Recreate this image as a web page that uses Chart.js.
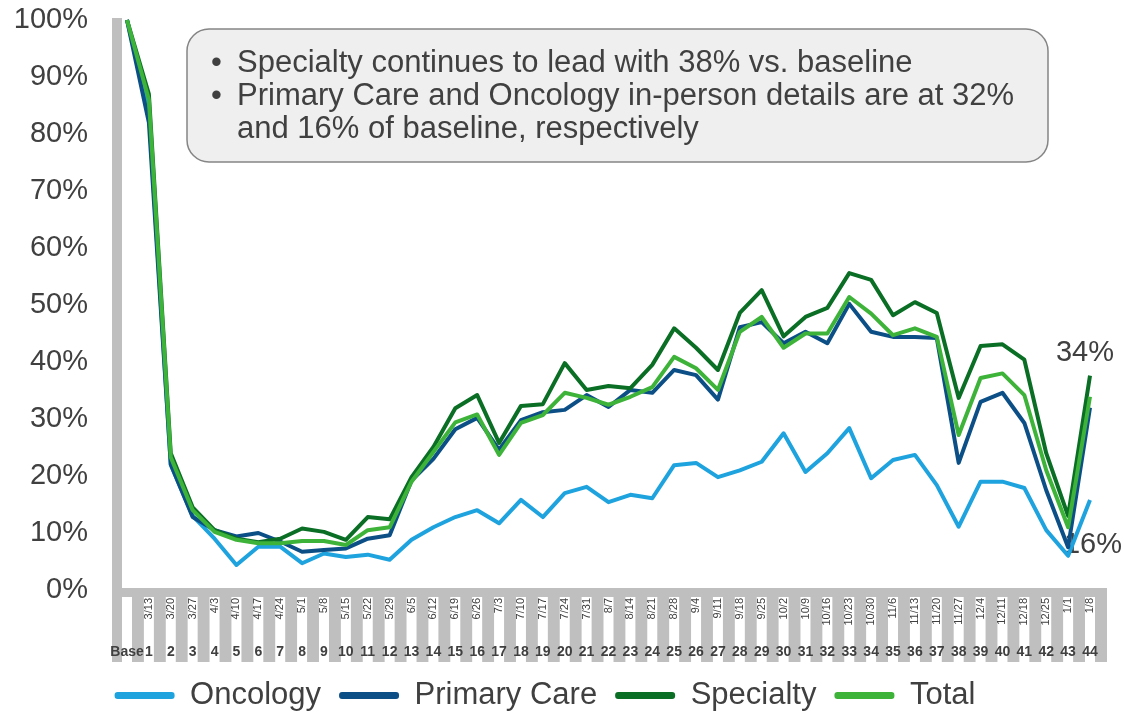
<!DOCTYPE html>
<html>
<head>
<meta charset="utf-8">
<script src="https://cdn.jsdelivr.net/npm/chart.js@4.4.1/dist/chart.umd.min.js"></script>
<style>
  html, body { margin: 0; padding: 0; background: #fff; }
  #wrap { width: 1124px; height: 712px; }
</style>
</head>
<body>
<div id="wrap"><canvas id="chart" width="1124" height="712"></canvas></div>
<script>
// week numbers and week-start dates
const weekNums = ['Base', '1', '2', '3', '4', '5', '6', '7', '8', '9', '10', '11', '12', '13', '14', '15',
  '16', '17', '18', '19', '20', '21', '22', '23', '24', '25', '26', '27', '28', '29', '30', '31', '32',
  '33', '34', '35', '36', '37', '38', '39', '40', '41', '42', '43', '44'];
const weekDates = ['', '3/13', '3/20', '3/27', '4/3', '4/10', '4/17', '4/24', '5/1', '5/8', '5/15', '5/22',
  '5/29', '6/5', '6/12', '6/19', '6/26', '7/3', '7/10', '7/17', '7/24', '7/31', '8/7', '8/14', '8/21',
  '8/28', '9/4', '9/11', '9/18', '9/25', '10/2', '10/9', '10/16', '10/23', '10/30', '11/6', '11/13',
  '11/20', '11/27', '12/4', '12/11', '12/18', '12/25', '1/1', '1/8'];

// % of baseline in-person details
const oncology = [100, 84, 22, 13, 9, 4.4, 7.6, 7.6, 4.7, 6.4, 5.8, 6.2, 5.3, 8.8, 11, 12.8, 14, 11.7,
  15.8, 12.8, 17, 18.1, 15.4, 16.7, 16.1, 21.9, 22.3, 19.8, 21, 22.5, 27.5, 20.7, 24, 28.4, 19.6, 22.8,
  23.7, 18.4, 11.1, 19, 19, 17.9, 10.5, 6, 15.8];
const primaryCare = [100, 82, 22, 12.8, 10.5, 9.4, 10, 8.5, 6.7, 7, 7.3, 9, 9.6, 19.2, 23, 28.2, 30.2,
  24.6, 29.8, 31.2, 31.6, 34.2, 32.1, 35.1, 34.6, 38.6, 37.7, 33.4, 46.1, 47, 43.3, 45.3, 43.3, 50.2,
  45.3, 44.4, 44.4, 44.2, 22.3, 33, 34.6, 29.3, 17.5, 7.5, 32];
const specialty = [100, 87, 24, 14.5, 10.5, 9, 8.4, 9, 10.8, 10.2, 8.8, 12.8, 12.4, 19.8, 25.1, 31.9,
  34.2, 25.8, 32.3, 32.6, 39.8, 35.1, 35.8, 35.4, 39.5, 45.9, 42.5, 38.6, 48.6, 52.6, 44.5, 47.9, 49.5,
  55.6, 54.4, 48.2, 50.5, 48.6, 33.7, 42.8, 43.1, 40.4, 24, 13, 37.6];
const total = [100, 86, 23.3, 14, 10.2, 8.8, 8.2, 8.2, 8.6, 8.6, 7.9, 10.5, 11, 19, 24.2, 29.4, 30.8,
  23.7, 29.3, 30.7, 34.6, 33.7, 32.5, 33.9, 35.6, 40.9, 38.9, 35.1, 45.3, 47.9, 42.5, 45, 45, 51.4, 48.5,
  44.7, 45.9, 44.4, 27.2, 37.2, 38, 34.2, 21, 11, 33.9];

const seriesNames = ['Oncology', 'Primary Care', 'Specialty', 'Total'];
const seriesColors = ['#1ea3df', '#0b4f86', '#0a6e25', '#3eb339'];

const notes = [
  'Specialty continues to lead with 38% vs. baseline',
  'Primary Care and Oncology in-person details are at 32%',
  'and 16% of baseline, respectively'
];

const textColor = '#404040';
const FONT = '"Liberation Sans", Arial, sans-serif';

// grey wall + striped floor behind the x labels, labels and note box
const frame = {
  id: 'frame',
  beforeDraw(chart) {
    const { ctx, chartArea } = chart;
    const x = chart.scales.x;
    ctx.save();
    ctx.fillStyle = '#bfbfbf';
    ctx.fillRect(chartArea.left - 15, chartArea.top - 2, 10, chartArea.bottom - chartArea.top + 2);
    ctx.fillRect(chartArea.left - 15, chartArea.bottom - 2, chartArea.right - chartArea.left + 32, 74);
    ctx.fillStyle = '#ffffff';
    for (let i = 0; i < weekNums.length; i++) {
      const px = x.getPixelForValue(i);
      ctx.fillRect(px - 5, chartArea.bottom + 7, 10, 65);
    }
    ctx.restore();
  },
  beforeDatasetsDraw(chart) {
    const { ctx } = chart;
    const p = chart.getDatasetMeta(0).data[44];
    ctx.save();
    ctx.fillStyle = textColor;
    ctx.font = '29px ' + FONT;
    ctx.textAlign = 'right';
    ctx.textBaseline = 'middle';
    ctx.fillText('16%', p.x + 32, p.y + 45);
    ctx.restore();
  },
  afterDraw(chart) {
    const { ctx } = chart;
    ctx.save();
    const pt = chart.getDatasetMeta(3).data[44];
    ctx.fillStyle = textColor;
    ctx.font = '29px ' + FONT;
    ctx.textAlign = 'center';
    ctx.textBaseline = 'middle';
    ctx.fillText('34%', pt.x - 5, pt.y - 44);

    const bx = 187, by = 29, bw = 861, bh = 133, r = 22;
    ctx.beginPath();
    ctx.roundRect(bx, by, bw, bh, r);
    ctx.fillStyle = '#efefef';
    ctx.fill();
    ctx.lineWidth = 1.5;
    ctx.strokeStyle = '#858585';
    ctx.stroke();
    ctx.fillStyle = textColor;
    ctx.font = '31px ' + FONT;
    ctx.textAlign = 'left';
    notes.forEach((line, i) => {
      const y = 63 + i * 33;
      if (i < 2) ctx.fillText('\u2022', 211, y);
      ctx.fillText(line, 237, y);
    });
    ctx.restore();
  }
};

const ctx = document.getElementById('chart').getContext('2d');
new Chart(ctx, {
  type: 'line',
  data: {
    labels: weekDates,
    datasets: [oncology, primaryCare, specialty, total].map((d, i) => ({
      label: seriesNames[i],
      data: d,
      borderColor: seriesColors[i],
      backgroundColor: seriesColors[i],
      borderWidth: 4,
      pointRadius: 0,
      tension: 0,
      borderJoinStyle: 'round',
      clip: 8,
      order: 3 - i
    }))
  },
  options: {
    responsive: false,
    animation: false,
    layout: { padding: { top: 20, right: 34, left: 0, bottom: 0 } },
    plugins: {
      tooltip: { enabled: false },
      legend: {
        position: 'bottom',
        maxHeight: 50,
        labels: {
          color: textColor,
          font: { family: FONT, size: 31 },
          boxWidth: 60,
          boxHeight: 7,
          padding: 18,
          useBorderRadius: true,
          borderRadius: 3,
          generateLabels: (chart) => chart.data.datasets.map((ds, i) => ({
            text: ds.label,
            fillStyle: ds.borderColor,
            strokeStyle: ds.borderColor,
            lineWidth: 0,
            fontColor: textColor,
            borderRadius: 3,
            datasetIndex: i
          }))
        }
      }
    },
    scales: {
      x: {
        grid: { display: false, drawTicks: false },
        border: { display: false },
        ticks: {
          autoSkip: false,
          minRotation: 90,
          maxRotation: 90,
          padding: 8,
          color: textColor,
          font: { family: FONT, size: 11 }
        },
        afterFit: (s) => { s.height = 38; }
      },
      x2: {
        type: 'category',
        labels: weekNums,
        position: 'bottom',
        grid: { display: false, drawTicks: false },
        border: { display: false },
        ticks: {
          autoSkip: false,
          maxRotation: 0,
          padding: 16,
          color: textColor,
          font: { family: FONT, size: 14, weight: 'bold' }
        },
        afterFit: (s) => { s.height = 34; }
      },
      y: {
        min: 0,
        max: 100,
        grid: { display: false, drawTicks: false },
        border: { display: false },
        ticks: {
          stepSize: 10,
          padding: 39,
          color: textColor,
          font: { family: FONT, size: 29 },
          callback: (v) => v + '%'
        },
        afterFit: (s) => {
          s.width = 127;
          s.paddingTop = 0;
          s.paddingBottom = 0;
        }
      }
    }
  },
  plugins: [frame]
});
</script>
</body>
</html>
